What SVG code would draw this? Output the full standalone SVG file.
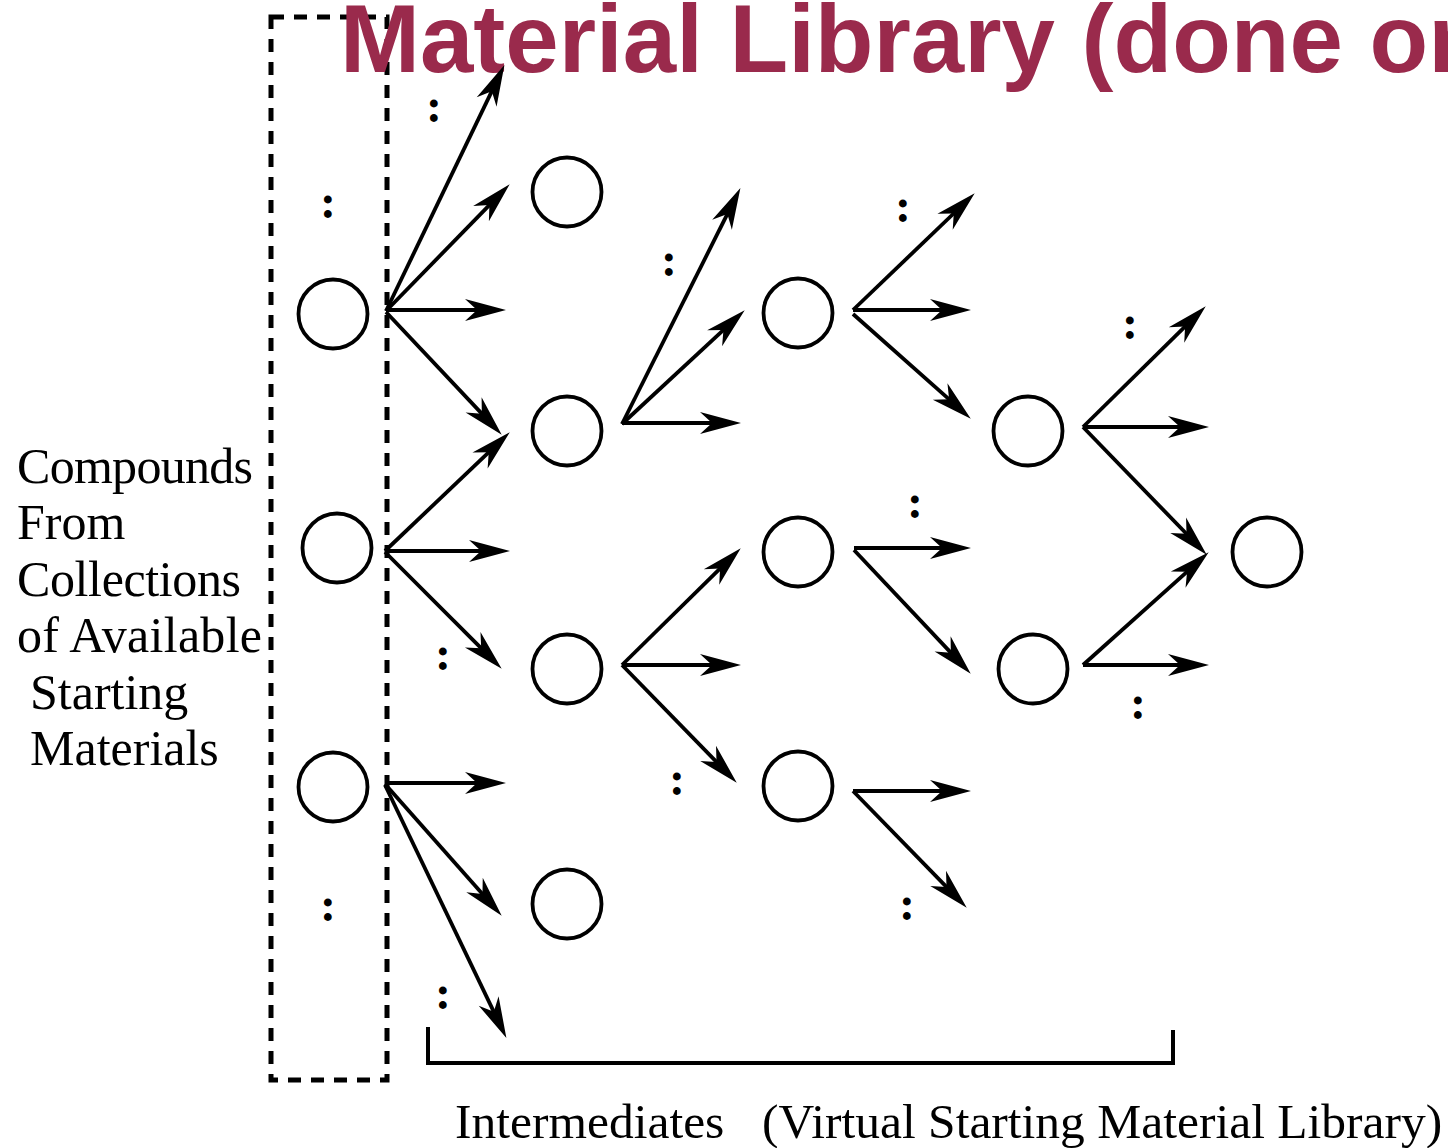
<svg xmlns="http://www.w3.org/2000/svg" width="1448" height="1148" viewBox="0 0 1448 1148">
<style>
.node{fill:none;stroke:#000;stroke-width:3.8}
.conn line{stroke:#000;stroke-width:3.8;marker-end:url(#ah)}
.lbl{font-family:"Liberation Serif","Times New Roman",serif;font-size:50px;fill:#000}
.dots{font-family:"Liberation Serif","Times New Roman",serif;font-size:48px;font-weight:bold;fill:#000;text-anchor:middle}
.title{font-family:"Liberation Sans",Arial,sans-serif;font-size:96px;font-weight:bold;fill:#9a2a4c}
</style>
<defs>
<marker id="ah" markerUnits="userSpaceOnUse" markerWidth="44" markerHeight="24" refX="14" refY="11" orient="auto" overflow="visible">
<path d="M41,11 L0,0 L12,11 L0,22 Z" fill="#000"/>
</marker>
</defs>
<rect id="start-box" x="271" y="17" width="116" height="1063" fill="none" stroke="#000" stroke-width="5" stroke-dasharray="13 10"/>
<text id="title" class="title" x="340" y="72">Material Library (done on</text>
<g id="left-label" class="lbl">
<text x="17" y="483" textLength="236">Compounds</text>
<text x="17" y="539">From</text>
<text x="17" y="596" textLength="224">Collections</text>
<text x="17" y="652" textLength="245">of Available</text>
<text x="30" y="709">Starting</text>
<text x="30" y="765">Materials</text>
</g>
<g id="n-s1"><circle class="node" cx="333" cy="314" r="34.5"/></g>
<g id="n-s2"><circle class="node" cx="337" cy="548" r="34.5"/></g>
<g id="n-s3"><circle class="node" cx="333" cy="787" r="34.5"/></g>
<g id="n-a1"><circle class="node" cx="567" cy="192" r="34.5"/></g>
<g id="n-a2"><circle class="node" cx="567" cy="431" r="34.5"/></g>
<g id="n-a3"><circle class="node" cx="567" cy="669" r="34.5"/></g>
<g id="n-a4"><circle class="node" cx="567" cy="904" r="34.5"/></g>
<g id="n-b1"><circle class="node" cx="798" cy="313" r="34.5"/></g>
<g id="n-b2"><circle class="node" cx="798" cy="552" r="34.5"/></g>
<g id="n-b3"><circle class="node" cx="798" cy="786" r="34.5"/></g>
<g id="n-c1"><circle class="node" cx="1028" cy="431" r="34.5"/></g>
<g id="n-c2"><circle class="node" cx="1033" cy="669" r="34.5"/></g>
<g id="n-d1"><circle class="node" cx="1267" cy="552" r="34.5"/></g>
<g id="connectors" class="conn">
<line x1="386" y1="311" x2="492.7" y2="89.4"/>
<line x1="386" y1="311" x2="490.8" y2="203.6"/>
<line x1="386" y1="310" x2="479" y2="310"/>
<line x1="386" y1="312" x2="483.2" y2="415.1"/>
<line x1="385" y1="551" x2="490.2" y2="450.9"/>
<line x1="385" y1="551" x2="483" y2="551"/>
<line x1="385" y1="552" x2="482.6" y2="649.6"/>
<line x1="385" y1="783" x2="479" y2="783"/>
<line x1="385" y1="784" x2="483.8" y2="895.5"/>
<line x1="385" y1="785" x2="494.7" y2="1013.6"/>
<line x1="622" y1="424" x2="728.3" y2="212.2"/>
<line x1="622" y1="424" x2="724.9" y2="328.7"/>
<line x1="622" y1="423" x2="714" y2="423"/>
<line x1="622" y1="665" x2="721.5" y2="567.2"/>
<line x1="622" y1="665" x2="714" y2="665"/>
<line x1="622" y1="665" x2="717.9" y2="763.4"/>
<line x1="853" y1="310" x2="955.2" y2="212"/>
<line x1="853" y1="310" x2="944" y2="310"/>
<line x1="853" y1="314" x2="950.6" y2="400.7"/>
<line x1="854" y1="548" x2="944" y2="548"/>
<line x1="854" y1="550" x2="952.2" y2="654.1"/>
<line x1="853" y1="791" x2="944" y2="791"/>
<line x1="853" y1="791" x2="947.9" y2="888.4"/>
<line x1="1083" y1="427" x2="1186.5" y2="325.2"/>
<line x1="1083" y1="427" x2="1182" y2="427"/>
<line x1="1083" y1="427" x2="1187.9" y2="535.3"/>
<line x1="1083" y1="665" x2="1188.6" y2="570.3"/>
<line x1="1083" y1="665" x2="1182" y2="665"/>
</g>
<g id="ellipses" class="dots">
<text x="434" y="122">:</text>
<text x="328" y="218">:</text>
<text x="669" y="276">:</text>
<text x="903" y="222">:</text>
<text x="1130" y="339">:</text>
<text x="915" y="518">:</text>
<text x="443" y="670">:</text>
<text x="677" y="795">:</text>
<text x="1138" y="719">:</text>
<text x="328" y="921">:</text>
<text x="443" y="1009">:</text>
<text x="907" y="920">:</text>
</g>
<path id="bracket" d="M428,1027 V1063 H1173 V1030" fill="none" stroke="#000" stroke-width="4"/>
<g id="bottom-label" class="lbl" style="font-size:49.5px">
<text x="455" y="1138">Intermediates</text>
<text x="762" y="1138">(Virtual Starting Material Library)</text>
</g>
</svg>
